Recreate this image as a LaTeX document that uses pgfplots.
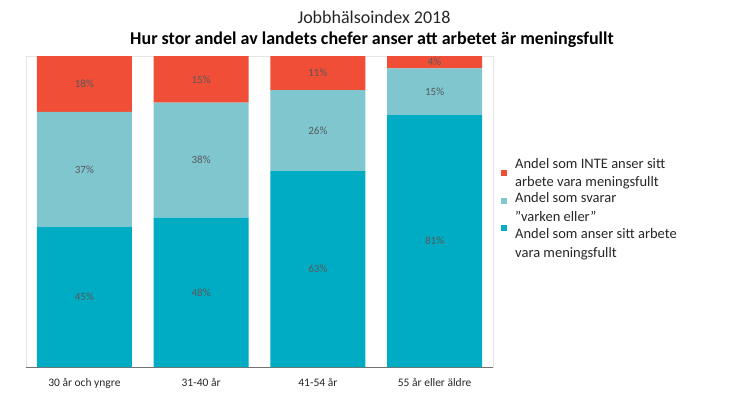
\documentclass[border=0pt]{standalone}
\usepackage{fontspec}
\setmainfont{Carlito}
\usepackage{pgfplots}
\pgfplotsset{compat=1.18}
\definecolor{cred}{HTML}{F04E37}
\definecolor{clight}{HTML}{7FC6CF}
\definecolor{cdark}{HTML}{00ABC4}
\definecolor{lbl}{HTML}{595959}
\definecolor{txt}{HTML}{262626}
\begin{document}
\begin{tikzpicture}
\useasboundingbox (0,0) rectangle (746pt,392pt);
\node[font=\fontsize{18}{21}\selectfont, text=txt] at (374pt,375pt) {Jobbhälsoindex 2018};
\node[font=\fontsize{18}{21}\selectfont\bfseries, text=black] at (372pt,352pt) {Hur stor andel av landets chefer anser att arbetet är meningsfullt};
\begin{axis}[at={(26pt,25pt)}, anchor=south west, scale only axis, width=467pt, height=311pt,
  ybar stacked, bar width=95pt, ymin=0, ymax=100, xmin=-0.5, xmax=3.5,
  xtick={0,1,2,3}, xticklabels={30 år och yngre,31-40 år,41-54 år,55 år eller äldre},
  ytick=\empty, xtick style={draw=none}, major tick length=0pt,
  axis line style={draw=black!10},
  xticklabel style={font=\fontsize{11.5}{13}\selectfont, text=txt, anchor=base, yshift=-19pt},
  point meta=explicit symbolic,
  nodes near coords={\pgfplotspointmeta\%},
  every node near coord/.append style={font=\fontsize{11}{13}\selectfont, text=lbl, anchor=center},
  legend style={draw=none, fill=none, at={(axis description cs:1,0.51)}, anchor=west, xshift=5pt,
    font=\fontsize{14.5}{18.6}\selectfont, text=txt, cells={anchor=west, align=left}, row sep=0pt,
    /tikz/every odd column/.append style={column sep=6pt}},
  reverse legend,
]
\addplot[fill=cdark, draw=none, legend image code/.code={\fill[cdark] (0pt,13pt) rectangle (6pt,19pt);}] coordinates {(0,45) [45] (1,48) [48] (2,63) [63] (3,81) [81]};
\addplot[fill=clight, draw=none, legend image code/.code={\fill[clight] (0pt,3.5pt) rectangle (6pt,9.5pt);}] coordinates {(0,37) [37] (1,37) [38] (2,26) [26] (3,15) [15]};
\addplot[fill=cred, draw=none, legend image code/.code={\fill[cred] (0pt,-3pt) rectangle (6pt,3pt);}] coordinates {(0,18) [18] (1,15) [15] (2,11) [11] (3,4) [4]};
\legend{Andel som anser sitt arbete\\vara meningsfullt, Andel som svarar\\”varken eller”, Andel som INTE anser sitt\\arbete vara meningsfullt}
\draw[black!55] (rel axis cs:0,0) -- (rel axis cs:1,0);
\end{axis}
\end{tikzpicture}
\end{document}
